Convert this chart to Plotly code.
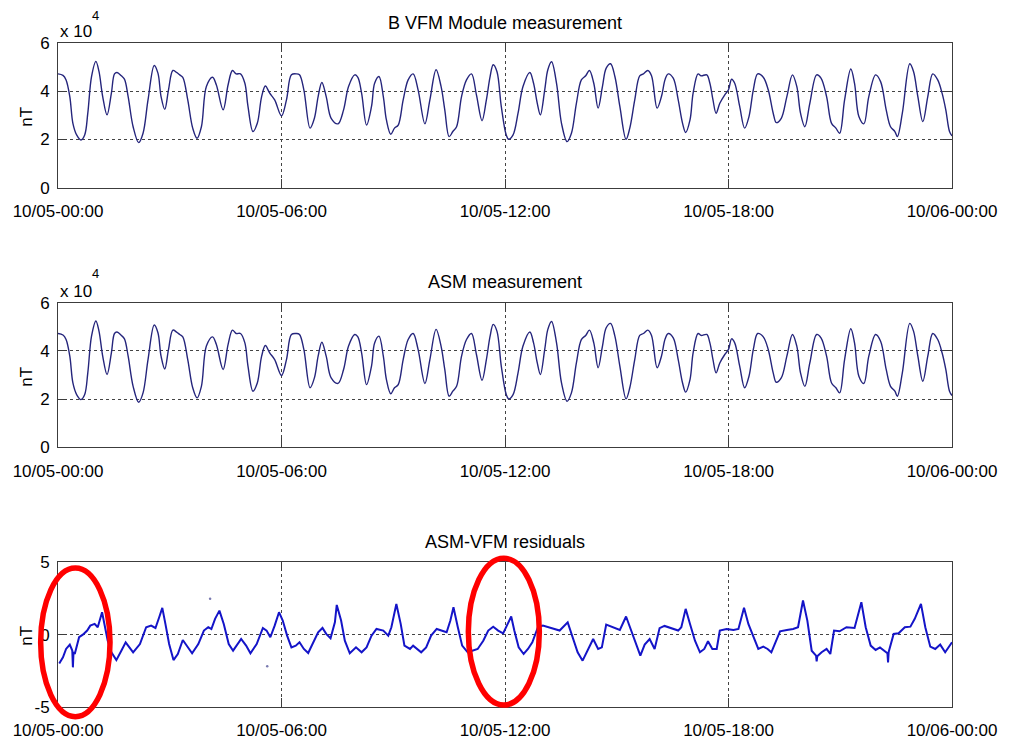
import plotly.graph_objects as go

# ---- field magnitude over one day (minutes since 10/05 00:00, nT) ----
vfm_min = [0, 8, 13, 19, 24, 30, 37, 43, 48, 54, 61, 66, 72, 79, 86, 91, 95, 102, 107, 113,
           121, 130, 137, 145, 155, 161, 166, 172, 178, 185, 191, 196, 201, 209, 217, 224, 231,
           239, 249, 255, 266, 274, 281, 287, 294, 301, 306, 314, 321, 328, 334, 341, 349, 360,
           368, 376, 384, 389, 396, 406, 413, 419, 425, 432, 440, 451, 460, 468, 478, 483, 489,
           497, 505, 510, 517, 524, 529, 536, 542, 548, 556, 564, 572, 580, 591, 599, 609, 617,
           623, 630, 636, 642, 650, 658, 666, 674, 683, 690, 696, 701, 707, 714, 722, 726, 733,
           741, 749, 760, 766, 772, 777, 784, 789, 795, 803, 811, 820, 827, 835, 843, 850, 856,
           863, 870, 877, 883, 890, 897, 905, 915, 921, 929, 937, 943, 950, 956, 965, 972, 978,
           983, 991, 999, 1006, 1011, 1018, 1023, 1031, 1036, 1045, 1050, 1055, 1060, 1066, 1074,
           1080, 1085, 1090, 1098, 1106, 1113, 1120, 1127, 1136, 1144, 1152, 1157, 1165, 1174,
           1183, 1190, 1196, 1203, 1211, 1222, 1229, 1238, 1246, 1253, 1259, 1267, 1277, 1283,
           1290, 1298, 1306, 1317, 1325, 1334, 1341, 1348, 1352, 1360, 1372, 1378, 1385, 1393,
           1401, 1409, 1417, 1424, 1430, 1436, 1440]
vfm_nt = [47200, 46600, 44700, 37800, 26700, 21900, 19800, 21900, 30900, 46100, 52400, 48200,
          37800, 30200, 39200, 47200, 47800, 46400, 45000, 37800, 25300, 18700, 22600, 36400,
          50700, 47500, 37800, 32500, 40600, 48600, 47800, 46800, 45800, 36400, 24700, 20500,
          25300, 42000, 45800, 42700, 32300, 42700, 48600, 47200, 47200, 43300, 33700, 23300,
          26700, 37800, 42200, 39200, 36400, 29800, 36400, 46800, 47200, 46800, 40600, 24700,
          28800, 37800, 43600, 37800, 28800, 26500, 32300, 42000, 46800, 45800, 39200, 26000,
          33700, 43300, 46100, 37800, 28100, 22200, 24700, 26000, 36400, 44700, 47200, 40600,
          26500, 36400, 48900, 42000, 32300, 21200, 23300, 25300, 37800, 44700, 47200, 38500,
          27800, 36400, 46100, 51000, 48200, 33700, 21900, 20100, 21900, 30900, 42000, 47800,
          43300, 35000, 30200, 40600, 48900, 52200, 43300, 26700, 19100, 22600, 35000, 44700,
          46400, 48600, 43300, 33000, 42000, 49600, 51400, 46100, 33700, 20100, 24700, 36400,
          46400, 47200, 48600, 46400, 33000, 37800, 45000, 47200, 45400, 36400, 26700, 22900,
          28100, 39200, 47200, 46400, 46800, 43300, 36400, 30900, 35000, 38500, 40600, 45000,
          43300, 33700, 24700, 29500, 40600, 47200, 45800, 40600, 30900, 27000, 28800, 37800,
          46800, 42000, 30900, 25300, 35000, 46800, 45400, 37800, 26700, 24700, 22600, 36400,
          49200, 43300, 29500, 26500, 37800, 46800, 44000, 32300, 25300, 23300, 21200, 30900,
          51400, 48200, 37800, 27400, 37800, 47200, 44700, 39200, 32300, 23300, 21500]

# the scalar magnetometer follows the same field at this scale
asm_min = list(vfm_min)
asm_nt = list(vfm_nt)

# ---- ASM minus VFM residuals (minutes, nT) ----
res_min = [2, 8, 13, 19, 23, 24, 25, 27, 34, 40, 47, 52, 59, 64, 71, 80, 86, 94, 102, 109, 115,
           121, 132, 142, 150, 157, 163, 168, 173, 179, 186, 193, 201, 208, 216, 226, 235, 242,
           247, 253, 260, 267, 275, 282, 288, 295, 303, 310, 320, 330, 336, 342, 349, 356, 362,
           369, 376, 383, 389, 396, 403, 411, 419, 426, 432, 439, 446, 449, 456, 462, 470, 480,
           489, 497, 505, 513, 524, 532, 537, 545, 552, 558, 567, 572, 578, 585, 593, 601, 610,
           617, 626, 632, 637, 644, 651, 660, 667, 676, 685, 693, 701, 709, 717, 723, 730, 735,
           742, 750, 757, 764, 773, 781, 797, 808, 821, 829, 837, 845, 854, 862, 870, 876, 883,
           894, 905, 915, 923, 931, 938, 945, 953, 961, 969, 977, 991, 999, 1004, 1011, 1018,
           1026, 1034, 1041, 1047, 1054, 1061, 1066, 1077, 1088, 1096, 1105, 1112, 1120, 1128,
           1136, 1143, 1149, 1157, 1163, 1174, 1184, 1192, 1200, 1207, 1214, 1221, 1222, 1223,
           1230, 1238, 1244, 1250, 1259, 1270, 1283, 1294, 1301, 1309, 1317, 1324, 1330, 1336,
           1337, 1338, 1346, 1354, 1364, 1373, 1380, 1390, 1397, 1405, 1413, 1421, 1429, 1434,
           1440]
res_nt = [-1.99, -1.57, -0.99, -0.69, -1.10, -2.26, -1.20, -1.34, -0.18, 0.00, 0.28, 0.62, 0.74,
          0.51, 1.55, -0.40, -1.22, -1.76, -1.11, -0.53, -0.88, -1.22, -0.65, 0.51, 0.62, 0.46,
          1.20, 1.85, 0.74, -0.65, -1.76, -1.34, -0.37, -0.76, -1.29, -0.65, 0.28, 0.51, 0.39,
          1.09, 1.66, 0.74, -0.65, -1.11, -0.76, -0.30, -0.76, -1.29, -0.65, 0.46, 0.28, -0.18,
          0.62, 1.55, 0.97, -0.07, -0.88, -0.76, -0.53, -0.99, -1.27, -0.53, 0.16, 0.46, 0.05,
          -0.25, 0.85, 2.05, 0.97, -0.42, -1.29, -0.88, -1.22, -0.88, -0.07, 0.39, 0.28, -0.07,
          0.51, 2.12, 0.74, -0.76, -0.99, -0.76, -0.99, -1.22, -0.88, -0.07, 0.39, 0.28, 0.16,
          0.97, 1.89, 0.51, -0.76, -1.22, -1.11, -0.99, -0.42, 0.28, 0.55, 0.28, 0.09, 0.62,
          1.25, 0.28, -0.88, -1.34, -0.99, -0.53, 0.51, 0.62, 0.39, 0.28, 0.85, -0.18, -1.22,
          -1.80, -0.99, -0.30, -0.99, -0.88, 0.69, 0.51, 0.32, 1.25, 0.28, -0.69, -1.45, -0.69,
          -0.30, -0.99, 0.45, 0.60, 0.39, 0.28, 0.51, 1.78, 0.74, -0.42, -1.22, -0.99, -0.46,
          -0.99, -0.99, 0.28, 0.39, 0.32, 0.39, 1.85, 0.74, -0.18, -0.99, -0.83, -0.99, -1.22,
          -0.37, 0.23, 0.32, 0.39, 0.51, 2.36, 0.97, -1.11, -1.45, -1.85, -1.50, -1.22, -0.99,
          -1.34, 0.28, 0.23, 0.51, 0.46, 2.24, 0.51, -0.76, -1.06, -0.88, -1.11, -1.29, -1.92,
          -1.20, 0.05, 0.09, 0.51, 0.55, 1.09, 2.12, 0.51, -0.83, -0.99, -0.69, -1.22, -0.88,
          -0.53]

# isolated outlier samples in the residuals
out_min = [245, 337]
out_nt = [2.47, -2.19]

# ---- axis ticks ----
x_tick_min = [0, 360, 720, 1080, 1440]
x_tick_text = ["10/05-00:00", "10/05-06:00", "10/05-12:00", "10/05-18:00", "10/06-00:00"]
b_tick_vals = [0, 20000, 40000, 60000]
b_tick_text = ["0", "2", "4", "6"]
r_tick_vals = [-5, 0, 5]
r_tick_text = ["-5", "0", "5"]

titles = ["B VFM Module measurement", "ASM measurement", "ASM-VFM residuals"]

FONT = "Liberation Sans, Arial, sans-serif"
NAVY = "#25257c"
BLUE = "#1414c8"

fig = go.Figure()
fig.add_trace(go.Scatter(x=vfm_min, y=vfm_nt, mode="lines", xaxis="x", yaxis="y",
                         line=dict(color=NAVY, width=1.4, shape="spline", smoothing=1.0),
                         showlegend=False))
fig.add_trace(go.Scatter(x=asm_min, y=asm_nt, mode="lines", xaxis="x2", yaxis="y2",
                         line=dict(color=NAVY, width=1.4, shape="spline", smoothing=1.0),
                         showlegend=False))
fig.add_trace(go.Scatter(x=res_min, y=res_nt, mode="lines", xaxis="x3", yaxis="y3",
                         line=dict(color=BLUE, width=2.0), showlegend=False))
fig.add_trace(go.Scatter(x=out_min, y=out_nt, mode="markers", xaxis="x3", yaxis="y3",
                         marker=dict(color="#7a7ab0", size=2.5), showlegend=False))

domains = [[0.782, 1.0], [0.391, 0.609], [0.0, 0.218]]

common_axis = dict(
    showline=True, linecolor="#3c3c3c", linewidth=1, mirror="ticks",
    ticks="inside", ticklen=9, tickwidth=1, tickcolor="#3c3c3c",
    showgrid=True, gridcolor="#444444", gridwidth=1, griddash="dot",
    zeroline=False, automargin=False,
    tickfont=dict(family=FONT, size=17, color="black"),
)

layout = dict(
    template="none",
    width=1009, height=740,
    margin=dict(l=58, r=57, t=43, b=33, autoexpand=False),
    plot_bgcolor="white", paper_bgcolor="white",
    showlegend=False,
)
for i, dom in enumerate(domains, start=1):
    sx = "" if i == 1 else str(i)
    layout["xaxis" + sx] = dict(common_axis, domain=[0, 1], anchor="y" + sx, range=[0, 1440],
                                tickmode="array", tickvals=x_tick_min, ticktext=x_tick_text,
                                ticklabelstandoff=8)
    if i < 3:
        yax = dict(range=[0, 60000], tickvals=b_tick_vals, ticktext=b_tick_text)
    else:
        yax = dict(range=[-5, 5], tickvals=r_tick_vals, ticktext=r_tick_text)
    layout["yaxis" + sx] = dict(common_axis, domain=dom, anchor="x" + sx, tickmode="array",
                                ticklabelstandoff=4, **yax)
fig.update_layout(**layout)

# panel titles, unit labels and exponent markers
title_y = [1.030, 0.640, 0.249]
unit_y = [0.8886, 0.497, 0.107]
for t, ty, uy in zip(titles, title_y, unit_y):
    fig.add_annotation(text=t, xref="paper", yref="paper", x=0.5, y=ty, showarrow=False,
                       xanchor="center", yanchor="middle",
                       font=dict(family=FONT, size=18, color="black"))
    fig.add_annotation(text="nT", xref="paper", yref="paper", x=-0.035, y=uy, showarrow=False,
                       textangle=-90, xanchor="center", yanchor="middle",
                       font=dict(family=FONT, size=17, color="black"))
for base_y, sup_y in [(1.018, 1.042), (0.6265, 0.653)]:
    fig.add_annotation(text="x 10", xref="paper", yref="paper", x=0.0, y=base_y,
                       showarrow=False, xanchor="left", yanchor="middle",
                       font=dict(family=FONT, size=17, color="black"))
    fig.add_annotation(text="4", xref="paper", yref="paper", x=0.0425, y=sup_y,
                       showarrow=False, xanchor="center", yanchor="middle",
                       font=dict(family=FONT, size=13, color="black"))

# highlighted regions of the residual panel
for x0, x1, y0, y1 in [(-0.0194, 0.0582, -0.0146, 0.2093), (0.459, 0.5384, 0.003, 0.224)]:
    fig.add_shape(type="circle", xref="paper", yref="paper", x0=x0, x1=x1, y0=y0, y1=y1,
                  line=dict(color="#ff0000", width=5.5), layer="above")

fig.write_html("out.html")
